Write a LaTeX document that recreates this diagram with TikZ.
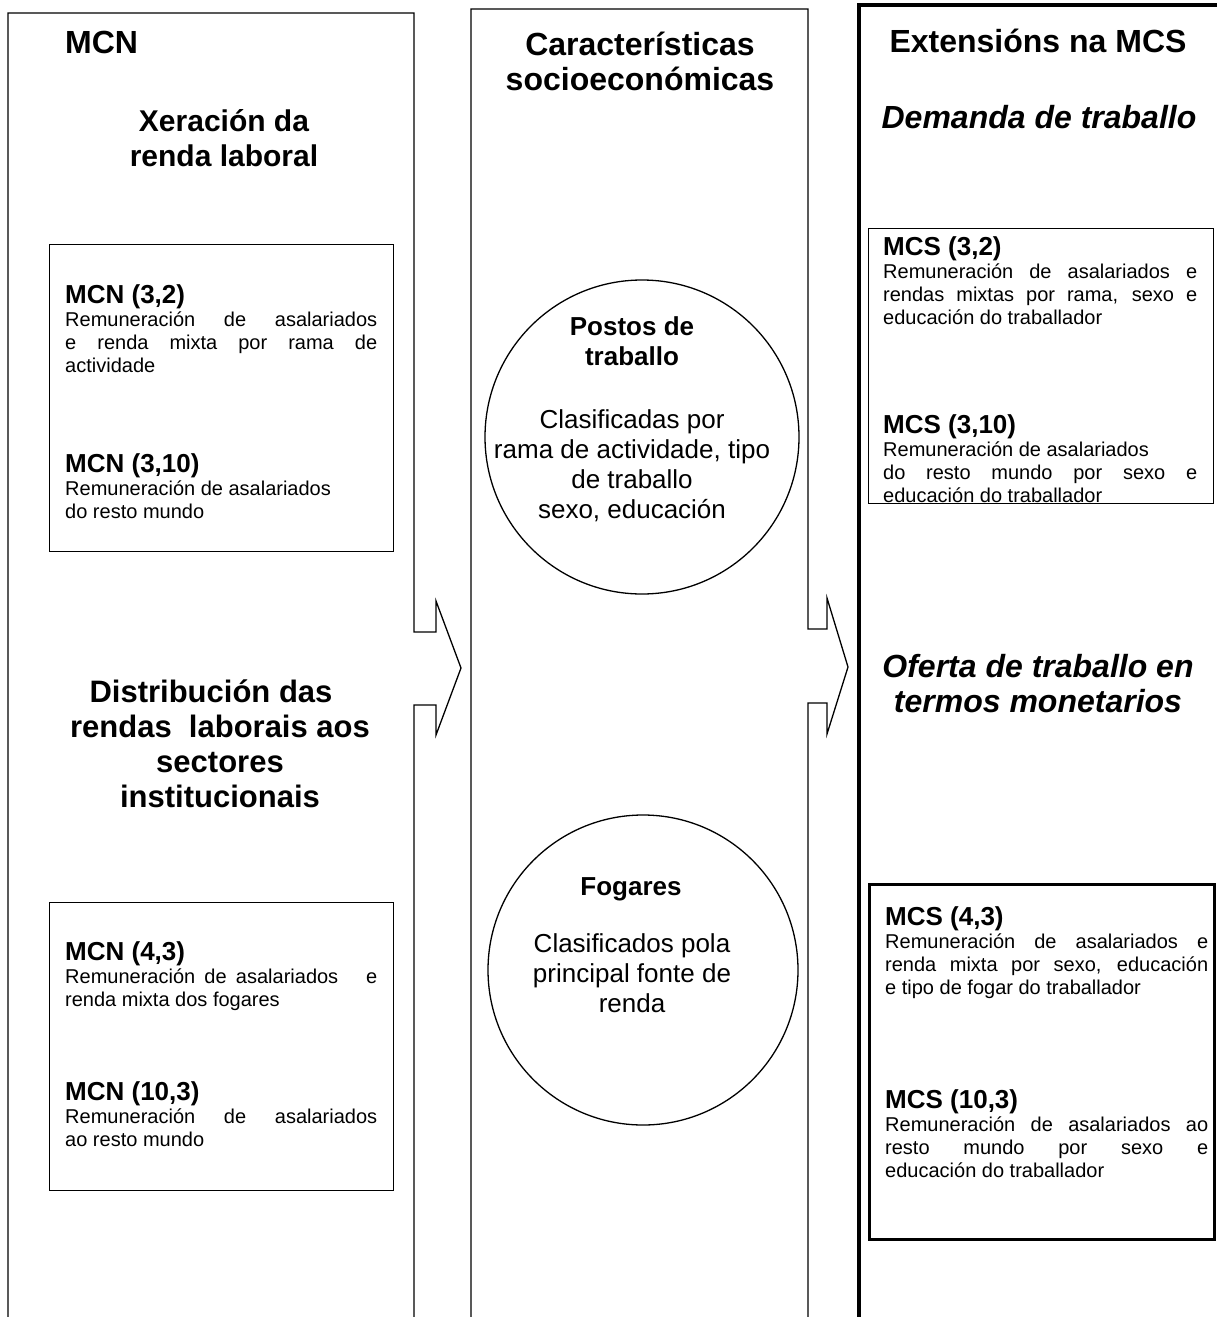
\documentclass[tikz,border=0pt]{standalone}
\usepackage{fontspec}
\setmainfont{Liberation Sans}
\newcommand\vlines[1]{\vtop{\lineskiplimit=-1000pt\lineskip=0pt #1}}
\newcommand\ctr[1]{\hbox to 0pt{\hss#1\hss}}
\newcommand\jst[2]{\hbox{\makebox[#1][s]{#2}}}
\newcommand\nat[1]{\hbox{#1}}
\newcommand\bh[1]{\hbox{\fontsize{26}{23.3}\selectfont\bfseries #1}}
\begin{document}
\begin{tikzpicture}[x=1pt,y=-1pt,
  col/.style={line width=1.3pt, line join=miter},
  thickcol/.style={line width=3.5pt},
  bx/.style={draw, line width=1.2pt, anchor=north west, inner sep=0pt},
  bxthick/.style={bx, line width=2.5pt},
  circ/.style={draw, circle, line width=1.3pt, inner sep=0pt},
  txt/.style={inner sep=0pt, anchor=base west},
  ctxt/.style={inner sep=0pt, anchor=base},
  colhead/.style={ctxt, font=\fontsize{32}{35}\selectfont\bfseries},
  body/.style={txt, font=\fontsize{20}{23.3}\selectfont},
  circbold/.style={ctxt, font=\fontsize{26}{30}\selectfont\bfseries},
  circbody/.style={ctxt, font=\fontsize{26}{30}\selectfont}]
\useasboundingbox (0,0) rectangle (1217,1317);
% columns with block arrows
\draw[col] (8,1317) -- (8,13) -- (414,13) -- (414,632) -- (436,632) -- (436,601)
  -- (461,668) -- (436,735) -- (436,705) -- (414,705) -- (414,1317);
\draw[col] (471,1317) -- (471,9) -- (808,9) -- (808,629) -- (827,629) -- (827,598)
  -- (848,667) -- (827,734) -- (827,703) -- (808,703) -- (808,1317);
\draw[thickcol] (859,1317) -- (859,5) -- (1219,5);
% column headings
\node[txt, font=\fontsize{32}{35}\selectfont\bfseries] (mcn) at (65,53) {MCN};
\node[colhead, font=\fontsize{30}{35}\selectfont\bfseries] (xer) at (224,131) {\vlines{\baselineskip=35pt\ctr{Xeración da}\ctr{renda laboral}}};
\node[colhead, font=\fontsize{31}{35}\selectfont\bfseries] (dist) at (220,702) {\vlines{\baselineskip=35pt\ctr{Distribución das\kern18pt}\ctr{rendas\ \ laborais aos}\ctr{sectores}\ctr{institucionais}}};
\node[colhead] (car) at (640,55) {\vlines{\baselineskip=35pt\ctr{Características}\ctr{socioeconómicas}}};
\node[colhead] (ext) at (1038,52) {Extensións na MCS};
\node[colhead, font=\fontsize{32}{35}\selectfont\bfseries\itshape] (dem) at (1039,128) {Demanda de traballo};
\node[colhead, font=\fontsize{32}{35}\selectfont\bfseries\itshape] (ofe) at (1038,677) {\vlines{\baselineskip=35pt\ctr{Oferta de traballo en}\ctr{termos monetarios}}};
% left boxes
\node[bx, minimum width=344pt, minimum height=307pt] (box1) at (49,244) {};
\node[body] (b1a) at (65,303) {\vlines{\bh{MCN (3,2)}\jst{312pt}{Remuneración de asalariados}\jst{312pt}{e renda mixta por rama de}\nat{actividade}}};
\node[body] (b1b) at (65,472) {\vlines{\bh{MCN (3,10)}\nat{Remuneración de asalariados}\nat{do resto mundo}}};
\node[bx, minimum width=344pt, minimum height=288pt] (box2) at (49,902) {};
\node[body] (b2a) at (65,960) {\vlines{\bh{MCN (4,3)}\jst{312pt}{Remuneración de asalariados\ \ \ e}\nat{renda mixta dos fogares}}};
\node[body] (b2b) at (65,1100) {\vlines{\bh{MCN (10,3)}\jst{312pt}{Remuneración de asalariados}\nat{ao resto mundo}}};
% circles
\node[circ, minimum size=314pt] (c1) at (642,437) {};
\node[circbold] (c1h) at (632,335) {\vlines{\ctr{Postos de}\ctr{traballo}}};
\node[circbody] (c1t) at (632,428) {\vlines{\ctr{Clasificadas por}\ctr{rama de actividade, tipo}\ctr{de traballo}\ctr{sexo, educación}}};
\node[circ, minimum size=310pt] (c2) at (643,970) {};
\node[circbold] (c2h) at (631,895) {Fogares};
\node[circbody] (c2t) at (632,952) {\vlines{\ctr{Clasificados pola}\ctr{principal fonte de}\ctr{renda}}};
% right boxes
\node[bx, minimum width=345pt, minimum height=275pt] (box3) at (868,228) {};
\node[body] (b3a) at (883,255) {\vlines{\bh{MCS (3,2)}\jst{314pt}{Remuneración de asalariados e}\jst{314pt}{rendas mixtas por rama, sexo e}\nat{educación do traballador}}};
\node[body] (b3b) at (883,433) {\vlines{\bh{MCS (3,10)}\nat{Remuneración de asalariados}\jst{314pt}{do resto mundo por sexo e}\nat{educación do traballador}}};
\node[bxthick, minimum width=345pt, minimum height=355pt] (box4) at (868,883) {};
\node[body] (b4a) at (885,925) {\vlines{\bh{MCS (4,3)}\jst{323pt}{Remuneración de asalariados e}\jst{323pt}{renda mixta por sexo, educación}\nat{e tipo de fogar do traballador}}};
\node[body] (b4b) at (885,1108) {\vlines{\bh{MCS (10,3)}\jst{323pt}{Remuneración de asalariados ao}\jst{323pt}{resto mundo por sexo e}\nat{educación do traballador}}};
\end{tikzpicture}
\end{document}
